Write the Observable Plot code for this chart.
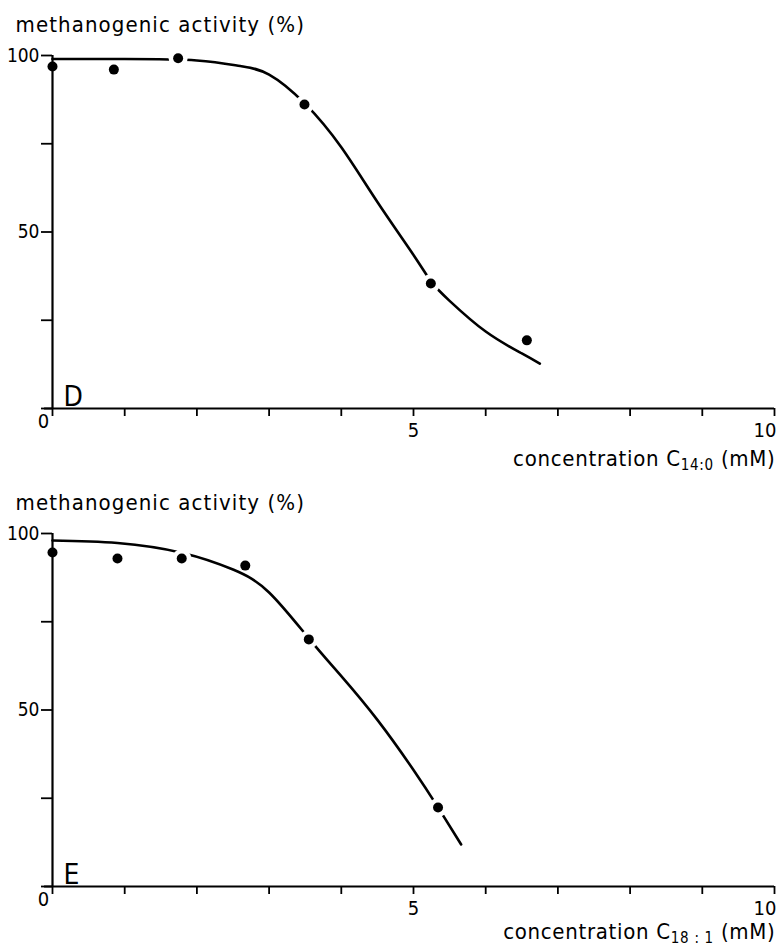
<!DOCTYPE html>
<html><head><meta charset="utf-8">
<script src="https://cdn.jsdelivr.net/npm/d3@7"></script>
<script src="https://cdn.jsdelivr.net/npm/@observablehq/plot@0.6"></script>
<style>
html,body{margin:0;padding:0;background:#fff;overflow:hidden;}
#chart svg{display:block;}
</style></head><body><div id="chart"></div>
<script>
// ---- shared texts / ticks ----
const yTitle = "methanogenic activity (%)";
const xTicks = [0, 1, 2, 3, 4, 5, 6, 7, 8, 9, 10];
const xTickLabels = [0, 5, 10];
const yTicks = [0, 25, 50, 75, 100];
const yTickLabels = [50, 100];

// ---- panel D (C14:0) ----
const panelD = "D";
const concD = [0, 0.85, 1.74, 3.49, 5.24, 6.57];
const actD = [96.9, 96.0, 99.2, 86.1, 35.4, 19.3];
const onCurveD = [false, false, true, true, true, false];
const fitConcD = [0, 1, 2, 2.6, 3.0, 3.5, 4.0, 4.5, 5.0, 5.25, 5.5, 6.0, 6.5, 6.75];
const fitActD = [99, 99, 98.6, 97, 94.6, 86.3, 74, 58.5, 43.5, 35.8, 30.5, 21.8, 15.6, 12.7];
const xLabelD = ["concentration C", "14:0", "(mM)"];

// ---- panel E (C18:1) ----
const panelE = "E";
const concE = [0, 0.9, 1.79, 2.67, 3.55, 5.34];
const actE = [94.6, 92.9, 92.9, 90.9, 70.0, 22.4];
const onCurveE = [false, false, true, false, true, true];
const fitConcE = [0, 0.9, 1.8, 2.5, 3.0, 3.55, 4.0, 4.5, 5.0, 5.34, 5.66];
const fitActE = [98, 97.3, 94.5, 89.8, 83.3, 70.3, 59.6, 47.2, 33, 22.4, 11.9];
const xLabelE = ["concentration C", "18 : 1", "(mM)"];

const FONT = "'DejaVu Sans Condensed', 'DejaVu Sans', sans-serif";

function panel(letter, conc, act, onCurve, fitX, fitY, xLabel, height, marginBottom, labelDy) {
  const pts = conc.map((c, i) => ({c, a: act[i], on: onCurve[i]}));
  const fit = fitX.map((c, i) => ({c, a: fitY[i]}));
  const fullLabel = xLabel[0] + xLabel[1] + " " + xLabel[2];
  const svg = Plot.plot({
    width: 782,
    height,
    marginLeft: 52,
    marginRight: 8,
    marginTop: 55,
    marginBottom,
    style: {fontFamily: FONT, fontSize: "19px", background: "white", color: "black", overflow: "visible"},
    x: {domain: [0, 10]},
    y: {domain: [0, 100]},
    marks: [
      Plot.axisY({ticks: yTicks, tickSize: 11, tickPadding: 2, strokeWidth: 1.8,
        tickFormat: d => yTickLabels.includes(d) ? String(d) : "", label: null, fontSize: 19}),
      Plot.axisX({ticks: xTicks, tickSize: 8, strokeWidth: 1.8, tickFormat: () => "", label: null}),
      Plot.ruleX([0], {y1: 0, y2: 100, strokeWidth: 2.2}),
      Plot.ruleY([0], {x1: -0.11, x2: 10, strokeWidth: 2.2}),
      Plot.text(xTickLabels.filter(d => d === 0), {x: d => d, y: 0, text: d => String(d), dx: -9, dy: 13, fontSize: 20}),
      Plot.text(xTickLabels.filter(d => d > 0 && d < 10), {x: d => d, y: 0, text: d => String(d), dy: 22, fontSize: 20}),
      Plot.text(xTickLabels.filter(d => d === 10), {x: d => d, y: 0, text: d => String(d), dx: 2, dy: 22, textAnchor: "end", fontSize: 20}),
      Plot.line(fit, {x: "c", y: "a", curve: "natural", strokeWidth: 2.6, stroke: "black"}),
      Plot.dot(pts.filter(d => d.on), {x: "c", y: "a", r: 9.5, fill: "white", stroke: "none"}),
      Plot.dot(pts, {x: "c", y: "a", r: 5, fill: "black", stroke: "none"}),
      Plot.text([yTitle], {frameAnchor: "top-left", text: d => d, textAnchor: "start", lineAnchor: "bottom", dx: -37, dy: -24, fontSize: 22}),
      Plot.text([letter], {frameAnchor: "bottom-left", text: d => d, textAnchor: "start", lineAnchor: "bottom", dx: 11, dy: -3, fontSize: 28}),
      Plot.text([fullLabel], {frameAnchor: "bottom-right", text: d => d, textAnchor: "end", lineAnchor: "bottom", dx: 1, dy: labelDy, fontSize: 22})
    ]
  });
  const sel = d3.select(svg).selectAll("text");
  sel.filter(function() { return this.textContent === yTitle; }).attr("letter-spacing", "1.1px");
  sel.filter(function() { return this.textContent === fullLabel; })
    .attr("letter-spacing", "0.7px")
    .each(function() {
      const t = d3.select(this);
      t.text(null);
      t.append("tspan").text(xLabel[0]);
      t.append("tspan").attr("dy", "4").attr("font-size", "15px").text(xLabel[1]);
      t.append("tspan").attr("dy", "-4").text(" " + xLabel[2]);
    });
  return svg;
}

const root = document.getElementById("chart");
root.appendChild(panel(panelD, concD, actD, onCurveD, fitConcD, fitActD, xLabelD, 478, 70, 57));
root.appendChild(panel(panelE, concE, actE, onCurveE, fitConcE, fitActE, xLabelE, 468, 60, 52));
</script></body></html>
